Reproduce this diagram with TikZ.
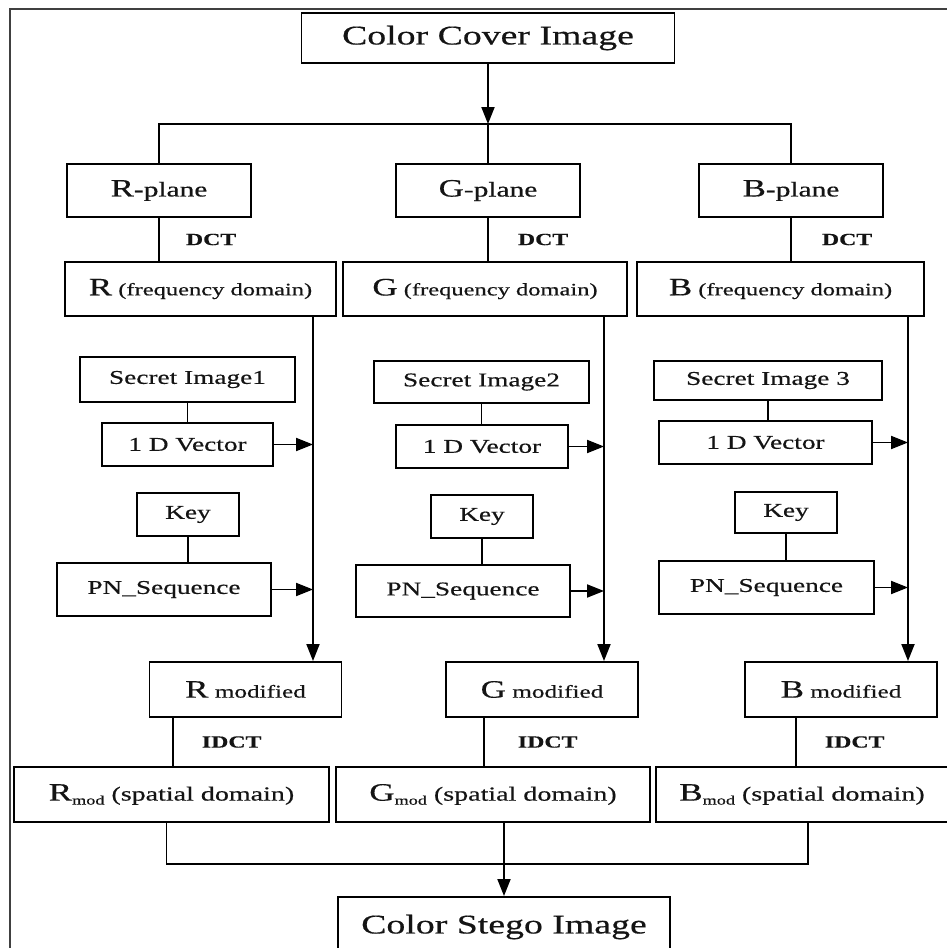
\documentclass[tikz,border=0pt]{standalone}
\usepackage{fontspec}
\setmainfont[FakeStretch=1.4, FakeBold=0.5]{Liberation Serif}
\usetikzlibrary{arrows.meta,positioning}
% big channel letter and its subscript
\newcommand{\chan}[1]{{\fontsize{25pt}{27pt}\selectfont #1}}
\newcommand{\modsub}{\raisebox{-4pt}{\fontsize{13pt}{13pt}\selectfont mod}}

\begin{document}
\begin{tikzpicture}[
  x=1pt, y=-1pt, >={Triangle[length=17pt,width=13pt]},
  blk/.style={draw, line width=1.9pt, inner sep=0pt, text=black!92,
              font=\fontsize{19.5pt}{22pt}\selectfont},
  title/.style={blk, font=\fontsize{27pt}{30pt}\selectfont,
                minimum width=373pt, minimum height=50pt},
  plane/.style={blk, font=\fontsize{21pt}{24pt}\selectfont,
                minimum width=184pt, minimum height=53pt},
  freq/.style={blk, font=\fontsize{17.5pt}{20pt}\selectfont,
               minimum height=54pt},
  modf/.style={blk, font=\fontsize{18pt}{20pt}\selectfont,
               minimum width=192pt, minimum height=55pt},
  spat/.style={blk, font=\fontsize{20pt}{22pt}\selectfont,
               minimum height=55pt},
  link/.style={line width=1.9pt},
  op/.style={font=\fontsize{17pt}{18pt}\selectfont\bfseries,
             inner sep=0pt, text=black!92},
]
\useasboundingbox (0,0) rectangle (947,948);
\draw[line width=2pt, black!75] (10,960) -- (10,9) -- (960,9);

\node[title] (cover) at (488,38) {Color Cover Image};
\coordinate (split) at (488,124);

% planes
\node[plane] (rplane) at (159,190.5) {\chan{R}-plane};
\node[plane] (gplane) at (488,190.5) {\chan{G}-plane};
\node[plane] (bplane) at (791,190.5) {\chan{B}-plane};

% frequency domain
\node[freq, minimum width=271pt] (rfreq) at (200.5,289) {\chan{R} (frequency domain)};
\node[freq, minimum width=284pt] (gfreq) at (485,289) {\chan{G} (frequency domain)};
\node[freq, minimum width=287pt] (bfreq) at (780.5,289) {\chan{B} (frequency domain)};

% secret images
\node[blk, minimum width=215pt, minimum height=45pt] (rsec) at (187.5,379.5) {Secret Image1};
\node[blk, minimum width=215pt, minimum height=42pt] (gsec) at (481.5,382) {Secret Image2};
\node[blk, minimum width=228pt, minimum height=39pt] (bsec) at (768,380.5) {Secret Image 3};

\node[blk, minimum width=171pt, minimum height=43pt] (rvec) at (187.5,444.5) {1 D Vector};
\node[blk, minimum width=172pt, minimum height=43pt] (gvec) at (482,446.5) {1 D Vector};
\node[blk, minimum width=213pt, minimum height=43pt] (bvec) at (765.5,442.5) {1 D Vector};

% keys
\node[blk, minimum width=102pt, minimum height=43pt] (rkey) at (188,514.5) {Key};
\node[blk, minimum width=102pt, minimum height=43pt] (gkey) at (482,516.5) {Key};
\node[blk, minimum width=102pt, minimum height=41pt] (bkey) at (786,512.5) {Key};

\node[blk, minimum width=214pt, minimum height=53pt] (rpn) at (164,589.5) {PN\_Sequence};
\node[blk, minimum width=214pt, minimum height=52pt] (gpn) at (463,591) {PN\_Sequence};
\node[blk, minimum width=215pt, minimum height=53pt] (bpn) at (766.5,587.5) {PN\_Sequence};

% modified planes
\node[modf] (rmod) at (245.5,689.5) {\chan{R} modified};
\node[modf] (gmod) at (542,689.5) {\chan{G} modified};
\node[modf] (bmod) at (841,689.5) {\chan{B} modified};

\node[spat, minimum width=315pt] (rspat) at (171.5,794.5) {\chan{R}\modsub{} (spatial domain)};
\node[spat, minimum width=314pt] (gspat) at (493,794.5) {\chan{G}\modsub{} (spatial domain)};
\node[spat, minimum width=304pt] (bspat) at (808,794.5) {\hspace*{-6pt}\chan{B}\modsub{} (spatial domain)\hspace*{6pt}};

\node[title, minimum width=332pt, minimum height=60pt] (stego) at (504,927) {Color Stego Image};

% cover to planes
\draw[link, ->] (cover) -- (split);
\draw[link] (rplane.north) |- (split) -| (bplane.north);
\draw[link] (split) -- (gplane.north);

% DCT
\draw[link] (rplane) -- node[op, right=26pt] {DCT} (rplane |- rfreq.north);
\draw[link] (gplane) -- node[op, right=29pt] {DCT} (gplane |- gfreq.north);
\draw[link] (bplane) -- node[op, right=30pt] {DCT} (bplane |- bfreq.north);

% embedding buses
\coordinate (rbus) at (313,0);
\coordinate (gbus) at (604,0);
\coordinate (bbus) at (908,0);
\draw[link, ->] (rfreq.south -| rbus) -- (rmod.north -| rbus);
\draw[link, ->] (gfreq.south -| gbus) -- (gmod.north -| gbus);
\draw[link, ->] (bfreq.south -| bbus) -- (bmod.north -| bbus);

\draw[link] (rsec.south) -- (rsec.south |- rvec.north);
\draw[link] (gsec.south) -- (gsec.south |- gvec.north);
\draw[link] (bsec.south) -- (bsec.south |- bvec.north);
\draw[link] (rkey.south) -- (rkey.south |- rpn.north);
\draw[link] (gkey.south) -- (gkey.south |- gpn.north);
\draw[link] (bkey.south) -- (bkey.south |- bpn.north);

\draw[link, ->] (rvec) -- (rvec -| rbus);
\draw[link, ->] (gvec) -- (gvec -| gbus);
\draw[link, ->] (bvec) -- (bvec -| bbus);
\draw[link, ->] (rpn) -- (rpn -| rbus);
\draw[link, ->] (gpn) -- (gpn -| gbus);
\draw[link, ->] (bpn) -- (bpn -| bbus);

% IDCT
\coordinate (rdrop) at (173,0);
\coordinate (gdrop) at (484,0);
\coordinate (bdrop) at (796,0);
\draw[link] (rmod.south -| rdrop) -- node[op, right=28pt] {IDCT} (rspat.north -| rdrop);
\draw[link] (gmod.south -| gdrop) -- node[op, right=33pt] {IDCT} (gspat.north -| gdrop);
\draw[link] (bmod.south -| bdrop) -- node[op, right=28pt] {IDCT} (bspat.north -| bdrop);

% merge
\coordinate (merge) at (504,864);
\draw[link] ([xshift=-5pt]rspat.south) |- (merge) -| (bspat.south);
\draw[link, ->] (gspat.south -| stego.north) -- (stego.north);
\end{tikzpicture}
\end{document}
